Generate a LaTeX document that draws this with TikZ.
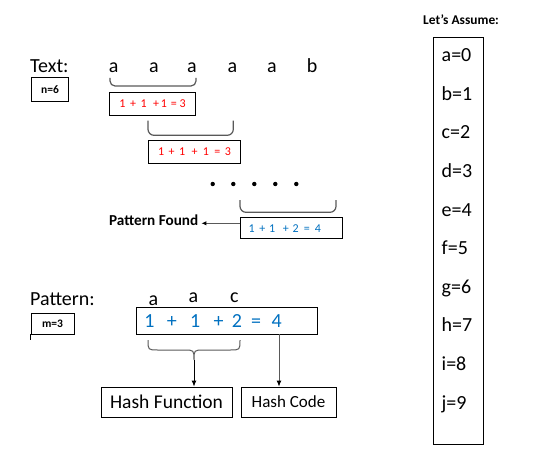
\documentclass[tikz,border=0pt]{standalone}
\usepackage{fontspec}
\setmainfont{Carlito}
\usetikzlibrary{arrows.meta}
\definecolor{redtxt}{HTML}{FF0000}
\definecolor{bluetxt}{HTML}{0070C0}
\definecolor{brgray}{HTML}{595959}
\newcommand{\myfs}[1]{\fontsize{#1}{#1}\selectfont}
\newcommand{\gp}[1]{\hspace{#1pt}}
\begin{document}
\begin{tikzpicture}[x=1pt,y=-1pt,
  box/.style={draw=black, line width=0.8pt, inner sep=0pt},
  big/.style={font=\myfs{20}, inner sep=0pt},
  sumred/.style={box, text=redtxt, font=\myfs{12}},
  bracket/.style={draw=brgray, line width=1.2pt, rounded corners=5pt},
  arr/.style={line width=0.9pt, -{Latex[length=6pt,width=5pt,color=black]}}]
\useasboundingbox (0,0) rectangle (537,473);

% ---------- Text row ----------
\node[big, anchor=base west] (txt) at (30,73) {Text:};
\node[big, anchor=base] (t1) at (113.7,73) {a};
\node[big, anchor=base] (t2) at (154,73) {a};
\node[big, anchor=base] (t3) at (192,73) {a};
\node[big, anchor=base] (t4) at (232.5,73) {a};
\node[big, anchor=base] (t5) at (272,73) {a};
\node[big, anchor=base] (t6) at (312,73) {b};
\node[box, minimum width=37.4pt, minimum height=23.3pt, font=\bfseries\myfs{11.5}] (n) at (50,89.3) {n=6};

\draw[bracket] (110,78) -- (110,86) -- (196,86) -- (196,78);
\node[sumred, minimum width=86.4pt, minimum height=22.6pt] (s1) at (152.5,104)
  {1\gp{4.6}+\gp{4.6}1\gp{6.5}+\gp{1.8}1\gp{3.7}=\gp{2.8}3};

\draw[bracket, rounded corners=6pt] (148,120.7) -- (148,135.3) -- (233.3,135.3) -- (233.3,120.7);
\node[sumred, minimum width=91.6pt, minimum height=22.6pt] (s2) at (194.5,152)
  {1\gp{4.5}+\gp{4.5}1\gp{6.3}+\gp{5.4}1\gp{5.4}=\gp{4.5}3};

\foreach \xx in {212.7,233.3,254.3,275.3,296.3} \fill (\xx,184) circle (2.2pt);

\draw[bracket, rounded corners=6pt] (240,200) -- (240,212.3) -- (336,212.3) -- (336,200);
\node[box, anchor=north west, text=bluetxt, font=\myfs{12}, minimum height=21pt,
  text width=85.4pt, inner xsep=8pt, align=left] (s3) at (240.3,217.3)
  {1\gp{4.6}+\gp{3.7}1\gp{7.7}+\gp{3.7}2\gp{5.3}=\gp{4.9}4};

\node[font=\bfseries\myfs{15.2}, anchor=base west, inner sep=0pt] (pf) at (109,225) {Pattern Found};
\coordinate (pfa) at (240.3,223.3);
\draw[arr, draw=brgray, -{Latex[length=5pt,width=4.5pt,color=black]}] (pfa) -- ([xshift=3pt]pf.east |- pfa);

% ---------- Pattern row ----------
\node[big, anchor=base west] (pat) at (30,305) {Pattern:};
\node[box, minimum width=43pt, minimum height=21pt, font=\bfseries\myfs{11.5}] (m) at (52.5,323.5) {m=3};
\draw[line width=1.5pt] (m.south west) -- ++(0,6);

\node[big, anchor=base] (p1) at (153.3,305) {a};
\node[big, anchor=base] (p2) at (193.3,302.7) {a};
\node[big, anchor=base] (p3) at (234.3,302.7) {c};

\node[box, anchor=north west, minimum height=27pt, text width=165pt, inner xsep=8pt,
  align=left, text=bluetxt, font=\myfs{20}] (pb) at (136,307)
  {1\gp{12.3}+\gp{13.3}1\gp{13.3}+\gp{8.3}2\gp{9.3}=\gp{10.3}4};

\coordinate (bt) at (194,360);
\draw[draw=brgray, line width=1pt]
  (148,340) .. controls (148,350) .. (158,350) -- (184,350) .. controls (194,350) .. (bt)
  (240,340) .. controls (240,350) .. (230,350) -- (204,350) .. controls (194,350) .. (bt);

\node[box, minimum width=131pt, minimum height=30pt, font=\myfs{19.5}] (hf) at (166.5,402) {Hash Function};
\node[box, minimum width=95pt, minimum height=30pt, font=\myfs{17}] (hc) at (288.5,402) {Hash Code};

\draw[arr] (bt) -- (bt |- hf.north);
\coordinate (hcs) at (279,334);
\draw[arr, draw=brgray] (hcs) -- (hcs |- hc.north);

% ---------- Right column ----------
\node[font=\bfseries\myfs{13.4}, anchor=base west, inner sep=0pt] (la) at (423,25) {Let’s Assume:};
\node[box, anchor=north west, minimum width=50pt, minimum height=407pt] (vb) at (433.3,37.3) {};
\foreach \t [count=\k from 0] in {a=0,b=1,c=2,d=3,e=4,f=5,g=6,h=7,i=8,j=9}
  \node[big, anchor=base west] (v\k) at (441.5,{61.7+38.6*\k}) {\t};
\end{tikzpicture}
\end{document}
